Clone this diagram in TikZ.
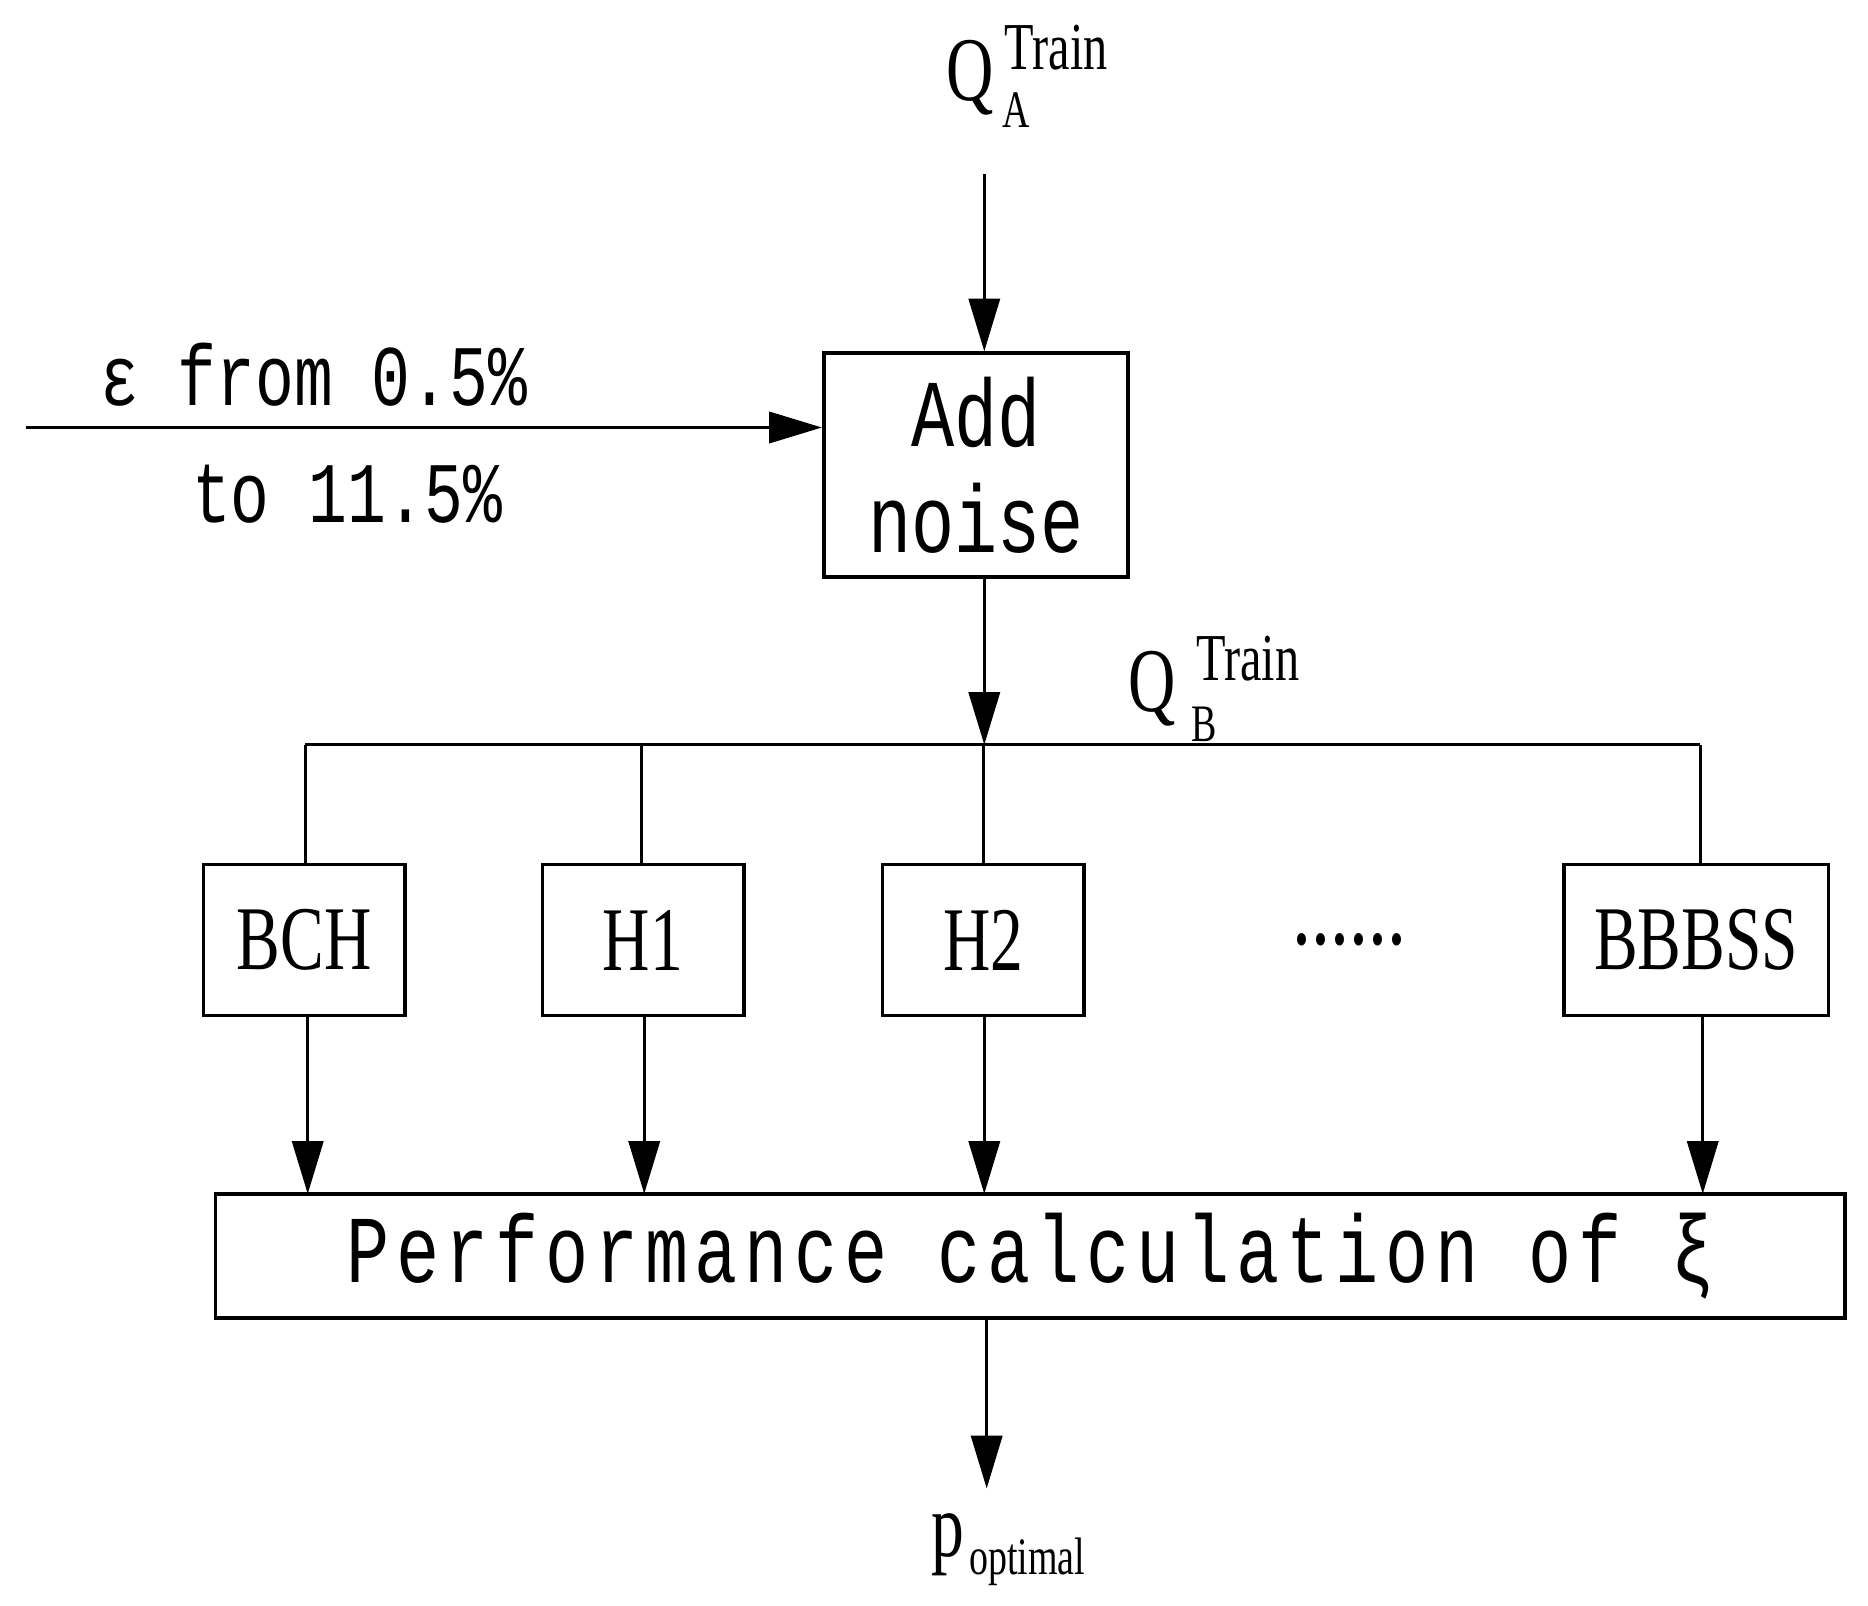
\documentclass[tikz,border=0pt]{standalone}
\usepackage{fontspec}
\usetikzlibrary{arrows.meta}
\newfontfamily\mymono[FakeStretch=0.75]{Liberation Mono}
\newfontfamily\mymonoS[FakeStretch=0.75,LetterSpace=7]{Liberation Mono}
\newfontfamily\myser[FakeStretch=0.72]{Liberation Serif}
\begin{document}
\begin{tikzpicture}[x=0.5pt,y=-0.5pt,
  box/.style={draw,line width=1.6pt,inner sep=0pt},
  ln/.style={line width=1.3pt},
  arr/.style={ln,-{Triangle[length=22pt,width=13pt]}},
  mono/.style={font=\mymono\fontsize{40}{44}\selectfont},
  ser/.style={font=\myser\fontsize{38}{40}\selectfont}]
\useasboundingbox (0,0) rectangle (1560,1341);
% Q_A
\node[ser,inner sep=0] (qa) at (810,65) {Q};
\node[font=\myser\fontsize{28}{30}\selectfont,inner sep=0] at (882,40) {Train};
\node[font=\myser\fontsize{22}{24}\selectfont,inner sep=0] at (849,92) {A};
\coordinate (qas) at (822,145);
% add noise
\node[box,minimum width=127pt,minimum height=93.5pt,align=center,mono] (add) at (815,388.5) {\fontsize{40}{46}\selectfont Add\\noise};
\draw[arr] (qas) -- (add.north -| qas);
\coordinate (eps) at (22,357);
\draw[arr] (eps) -- (add.west |- eps);
\node[font=\mymono\fontsize{36}{40}\selectfont,inner sep=0] (e1) at (262,313) {ε from 0.5\%};
\node[font=\mymono\fontsize{36}{40}\selectfont,inner sep=0] (e2) at (290,413) {to 11.5\%};
% bus
\coordinate (bus) at (822,622);
\draw[arr] (add.south -| bus) -- (bus);
\node[ser,inner sep=0] (qb) at (962,575) {Q};
\node[font=\myser\fontsize{28}{30}\selectfont,inner sep=0] at (1042,550) {Train};
\node[font=\myser\fontsize{22}{24}\selectfont,inner sep=0] at (1006,605) {B};
% boxes
\node[box,minimum width=84pt,minimum height=63pt,ser] (bch) at (254,785) {BCH};
\node[box,minimum width=84pt,minimum height=63pt,ser] (h1) at (537,785) {H1};
\node[box,minimum width=84pt,minimum height=63pt,ser] (h2) at (821,785) {H2};
\node[box,minimum width=110.5pt,minimum height=63pt,ser] (bb) at (1416.5,785) {BBBSS};
\node[font=\myser\fontsize{44}{44}\selectfont,inner sep=0] (dots) at (1127,785) {......};
\draw[ln] (255,622) -- (1420,622);
\draw[ln] (255,622) -- (255,722);
\draw[ln] (536,622) -- (536,722);
\draw[ln] (821,622) -- (821,722);
\draw[ln] (1420,622) -- (1420,722);
% performance
\node[box,minimum width=680.5pt,minimum height=52pt,font=\mymonoS\fontsize{40}{44}\selectfont] (perf) at (860.5,1049) {Performance calculation of ξ};
\draw[arr] (257,848) -- (257,997);
\draw[arr] (538,848) -- (538,997);
\draw[arr] (822,848) -- (822,997);
\draw[arr] (1422,848) -- (1422,997);
\coordinate (out) at (824,1243);
\draw[arr] (perf.south -| out) -- (out);
\node[ser,inner sep=0] (p) at (792,1290) {p};
\node[font=\myser\fontsize{22}{24}\selectfont,inner sep=0] at (858,1304) {optimal};
\end{tikzpicture}
\end{document}
